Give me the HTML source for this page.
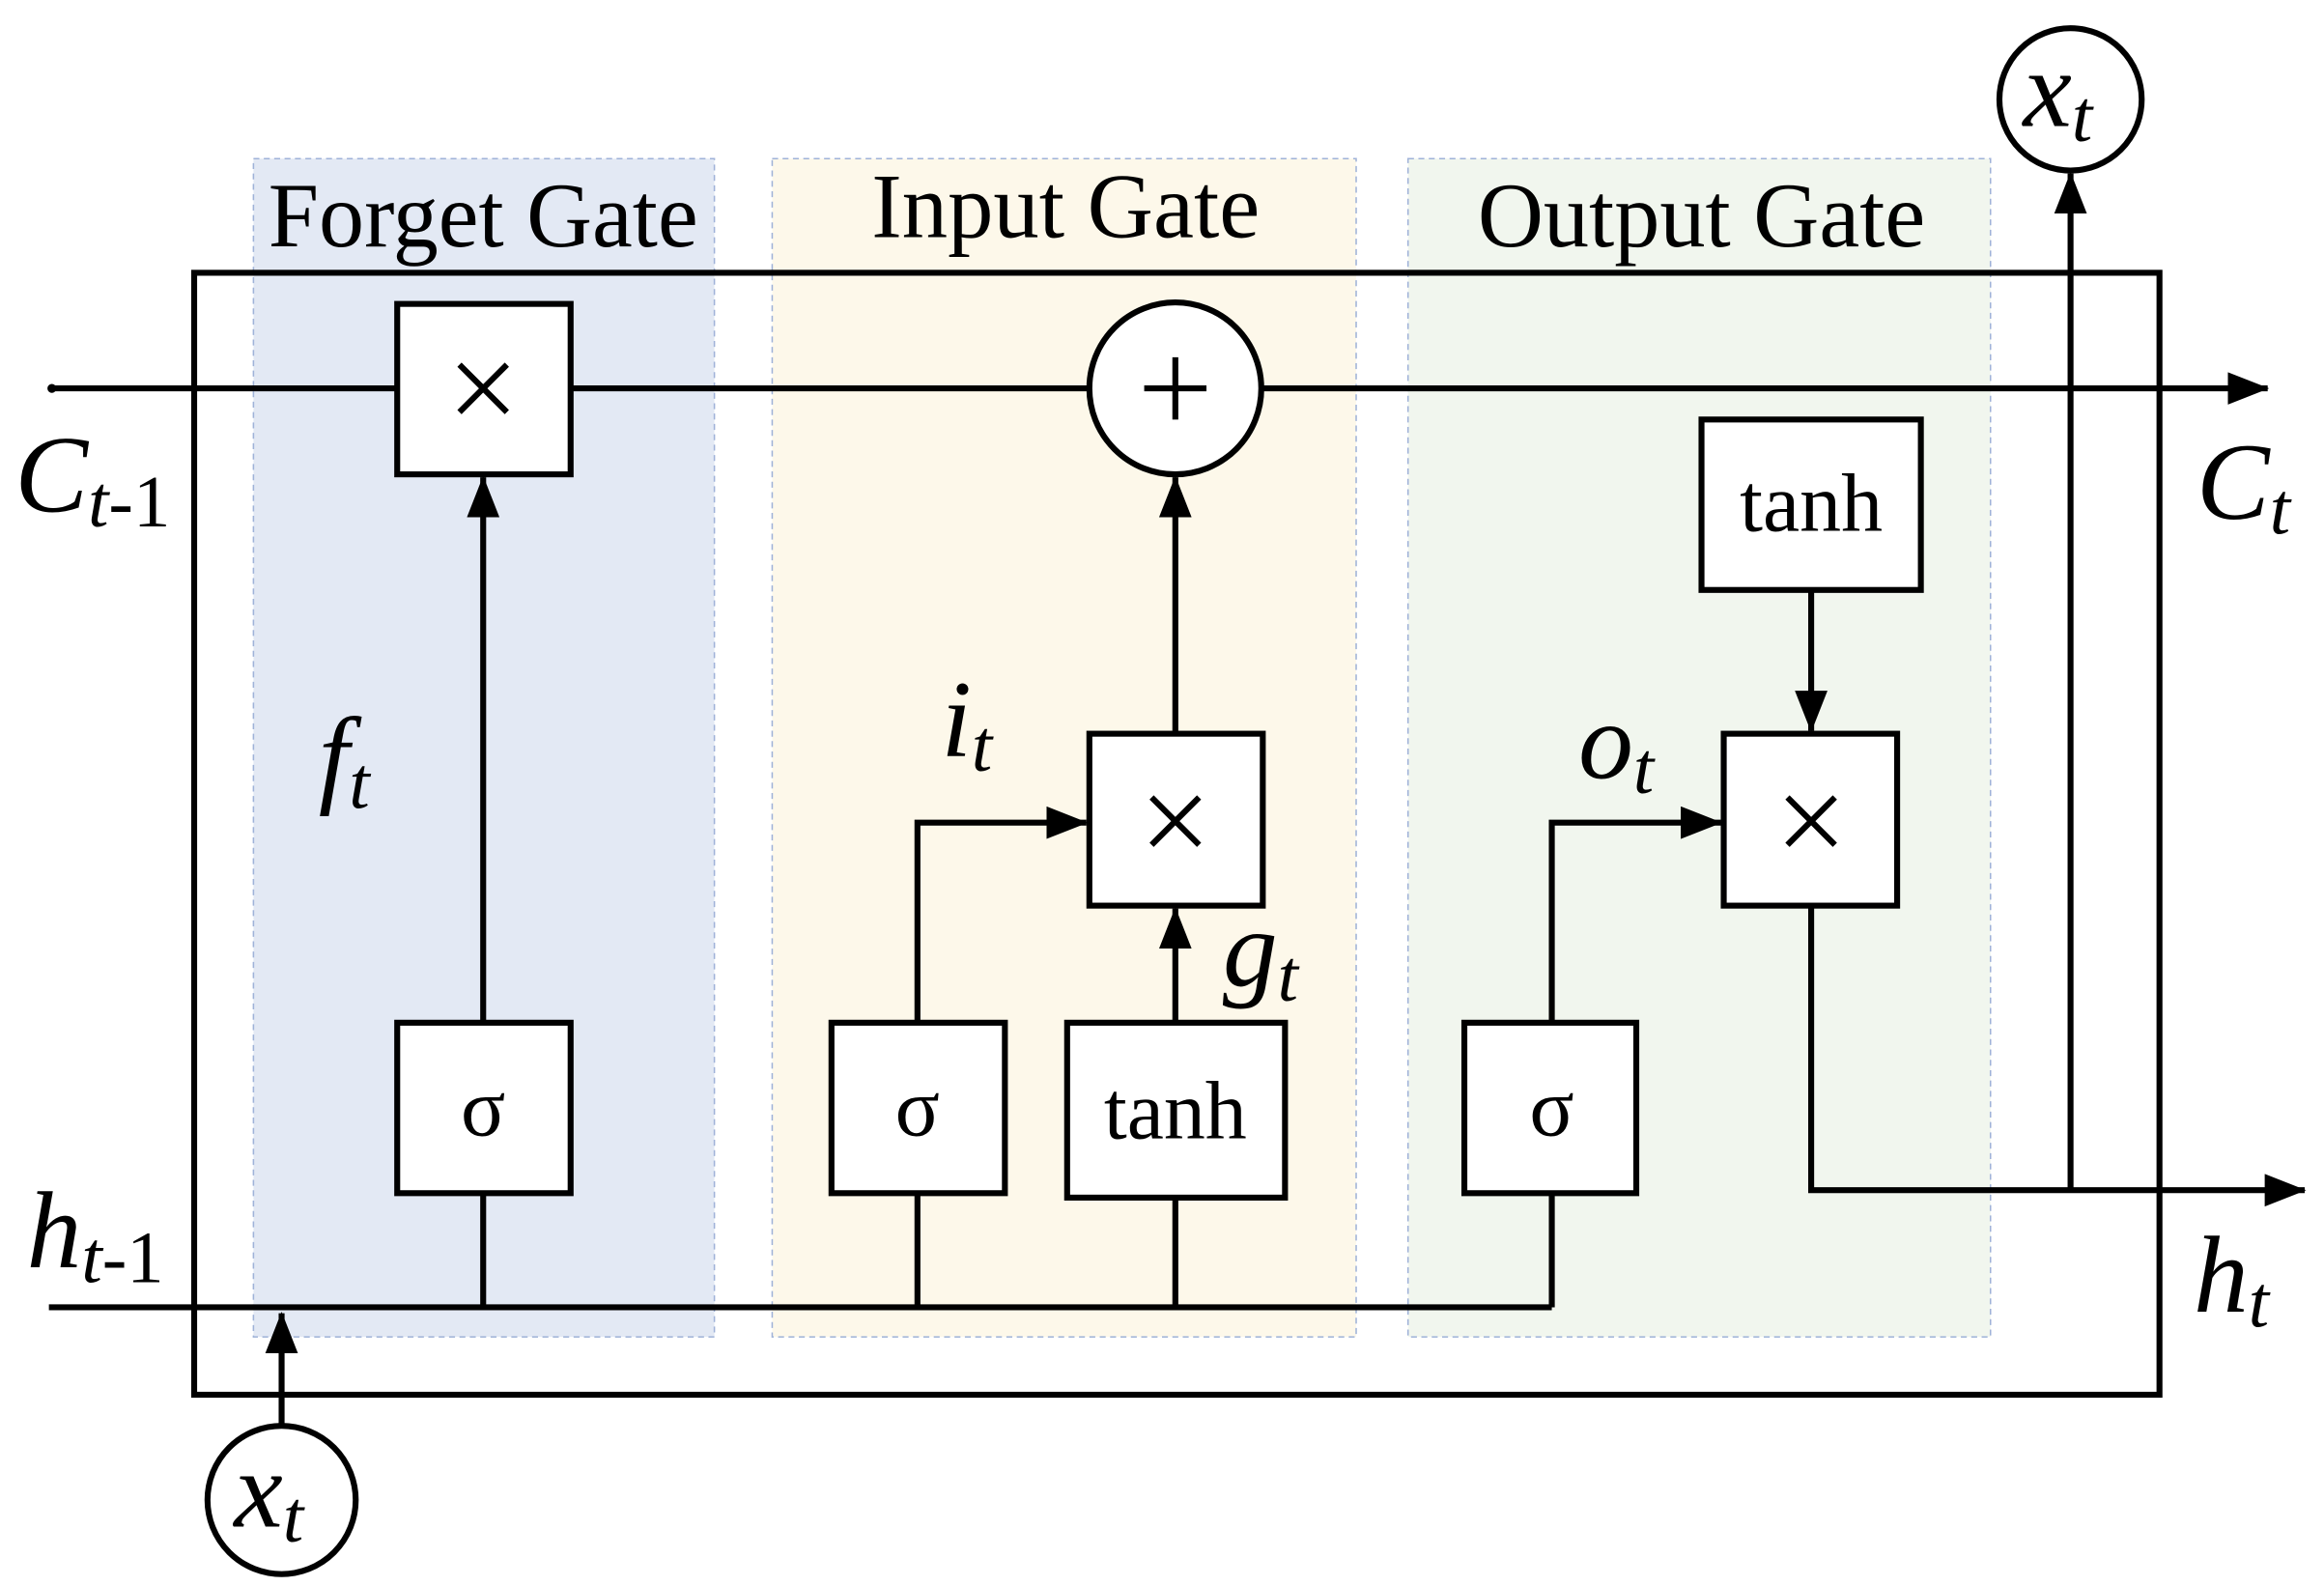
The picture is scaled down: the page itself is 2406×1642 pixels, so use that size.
<!DOCTYPE html>
<html><head><meta charset="utf-8"><style>html,body{margin:0;padding:0;background:#fff}svg{display:block}</style></head>
<body>
<svg width="2406" height="1642" viewBox="0 0 1568 1070" xmlns="http://www.w3.org/2000/svg" font-family="Liberation Serif, serif">
<defs>
<marker id="b" markerWidth="28" markerHeight="22" refX="27" refY="11" orient="auto" markerUnits="userSpaceOnUse" viewBox="0 0 28 22"><path d="M0,0 L28,11 L0,22 z" fill="#000"/></marker></defs>
<rect x="171" y="107" width="311" height="795" fill="#e3e9f4" stroke="#9fb2d8" stroke-dasharray="4,3"/>
<rect x="521" y="107" width="394" height="795" fill="#fdf8ea" stroke="#9fb2d8" stroke-dasharray="4,3"/>
<rect x="950" y="107" width="393" height="795" fill="#f1f6ee" stroke="#9fb2d8" stroke-dasharray="4,3"/>
<g font-size="62" text-anchor="middle"><text x="326" y="166" textLength="290" lengthAdjust="spacingAndGlyphs">Forget Gate</text><text x="719" y="160" textLength="262" lengthAdjust="spacingAndGlyphs">Input Gate</text><text x="1148" y="166" textLength="302" lengthAdjust="spacingAndGlyphs">Output Gate</text></g>
<rect x="131" y="184" width="1326" height="757" fill="none" stroke="#000" stroke-width="4"/>
<g stroke="#000" stroke-width="4" fill="none">
<line x1="35" y1="262" x2="268" y2="262"/><line x1="385" y1="262" x2="735" y2="262"/><line x1="851" y1="262" x2="1530" y2="262" marker-end="url(#b)"/>
<line x1="33" y1="882" x2="1047" y2="882"/>
<polyline points="326,882 326,805"/><line x1="326" y1="690" x2="326" y2="322" marker-end="url(#b)"/>
<polyline points="619,882 619,805"/><polyline points="619,690 619,555 733,555" marker-end="url(#b)"/>
<line x1="793" y1="882" x2="793" y2="808"/><line x1="793" y1="690" x2="793" y2="613" marker-end="url(#b)"/>
<line x1="793" y1="495" x2="793" y2="322" marker-end="url(#b)"/>
<line x1="1047" y1="882" x2="1047" y2="805"/><polyline points="1047,690 1047,555 1161,555" marker-end="url(#b)"/>
<line x1="1222" y1="398" x2="1222" y2="493" marker-end="url(#b)"/>
<polyline points="1222,611 1222,803 1555,803" marker-end="url(#b)"/>
<line x1="1397" y1="803" x2="1397" y2="117" marker-end="url(#b)"/>
<line x1="190" y1="962" x2="190" y2="886" marker-end="url(#b)"/>
<g fill="#fff"><rect x="268" y="205" width="117" height="115"/><rect x="268" y="690" width="117" height="115"/><rect x="561" y="690" width="117" height="115"/><rect x="720" y="690" width="147" height="118"/><rect x="735" y="495" width="117" height="116"/><rect x="988" y="690" width="116" height="115"/><rect x="1163" y="495" width="117" height="116"/><rect x="1148" y="283" width="148" height="115"/>
<circle cx="793" cy="262" r="58"/><circle cx="1397" cy="67" r="48"/><circle cx="190" cy="1012" r="50"/></g>
</g>
<circle cx="35" cy="262" r="3"/>
<g stroke="#000" stroke-width="4">
<path d="M310,246 L342,278 M342,246 L310,278"/>
<path d="M777,538 L809,570 M809,538 L777,570"/>
<path d="M1206,538 L1238,570 M1238,538 L1206,570"/>
<path d="M772,262 L814,262 M793,241 L793,283"/>
</g>
<g font-size="56" text-anchor="middle">
<text x="326" y="766">σ</text><text x="619" y="766">σ</text><text x="1047" y="766">σ</text>
<text x="793" y="768">tanh</text><text x="1222" y="358">tanh</text></g>
<g font-size="74" font-style="italic">
<text x="10" y="345">C<tspan font-size="50" dy="10">t</tspan><tspan font-style="normal" font-size="50">-1</tspan></text>
<text x="1482" y="350">C<tspan font-size="50" dy="10">t</tspan></text>
<text x="18" y="855">h<tspan font-size="50" dy="10">t</tspan><tspan font-style="normal" font-size="50">-1</tspan></text>
<text x="1480" y="885">h<tspan font-size="50" dy="10">t</tspan></text>
<text x="215" y="535">f<tspan font-size="50" dy="10">t</tspan></text>
<text x="635" y="510">i<tspan font-size="50" dy="10">t</tspan></text>
<text x="825" y="665">g<tspan font-size="50" dy="10">t</tspan></text>
<text x="1065" y="525">o<tspan font-size="50" dy="10">t</tspan></text>
<text x="1365" y="85">x<tspan font-size="50" dy="10">t</tspan></text>
<text x="158" y="1030">x<tspan font-size="50" dy="10">t</tspan></text>
</g>
</svg>
</body></html>
